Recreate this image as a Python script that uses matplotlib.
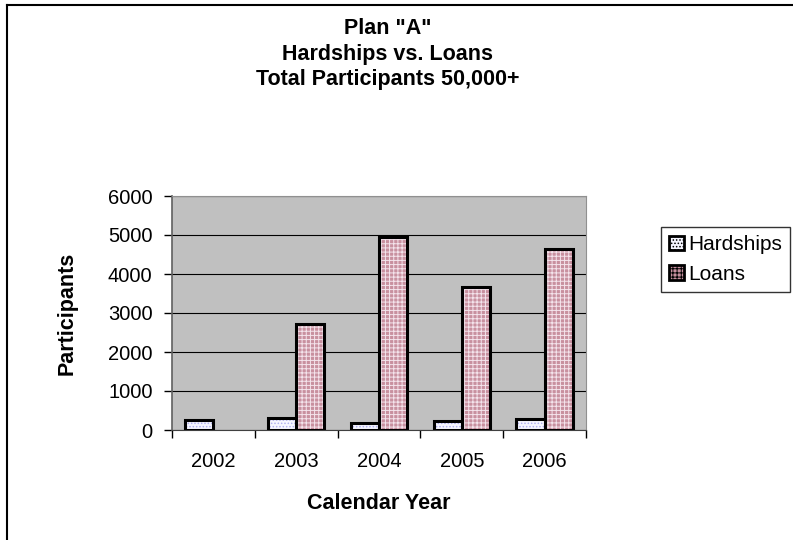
import numpy as np
import matplotlib
matplotlib.use('Agg')
import matplotlib.pyplot as plt
from matplotlib.lines import Line2D
from matplotlib.patches import Patch

plt.rcParams['font.family'] = ['Liberation Sans', 'DejaVu Sans']
plt.rcParams['hatch.linewidth'] = 0.7

# data
years = ['2002', '2003', '2004', '2005', '2006']
hardships = [250, 310, 170, 230, 280]
loans = [0, 2720, 4950, 3660, 4630]

fig = plt.figure(figsize=(7.93, 5.40), dpi=100)
ax = fig.add_axes([172/793, 1-430/540, (586-172)/793, (430-196)/540])
ax.set_facecolor('#c0c0c0')

x = np.arange(len(years))
w = 0.34

# fill with pattern, then a heavy black outline
ax.bar(x - w/2, hardships, w, color='#f6f6ff', edgecolor='#b0b0f0', hatch='.....', lw=0, zorder=3)
ax.bar(x - w/2, hardships, w, fill=False, edgecolor='black', lw=2.2, zorder=4)
ax.bar(x + w/2, loans, w, color='#c8909f', edgecolor='#f4e4ec', hatch='++++', lw=0, zorder=3)
lb = ax.bar(x + w/2, loans, w, fill=False, edgecolor='black', lw=2.2, zorder=4)
for b, v in zip(lb, loans):
    if v == 0:
        b.set_visible(False)

ax.set_xlim(-0.5, 4.5)
ax.set_ylim(0, 6000)
ax.set_yticks(range(0, 6001, 1000))
ax.yaxis.grid(True, color='black', lw=0.8)
ax.set_axisbelow(True)
ax.tick_params(axis='y', labelsize=14.5, length=6, width=1, pad=8)
ax.set_xticks(x)
ax.set_xticklabels(years)
ax.tick_params(axis='x', labelsize=14.5, length=0, pad=16)
ax.set_xticks(np.arange(-0.5, 5, 1), minor=True)
ax.tick_params(axis='x', which='minor', length=6, width=1)

for s in ['top', 'right']:
    ax.spines[s].set_color('#909090')
ax.spines['left'].set_color('#606060')
ax.spines['left'].set_linewidth(1.2)
ax.spines['bottom'].set_color('#404040')

ax.set_ylabel('Participants', fontsize=15.5, fontweight='bold', labelpad=22)
ax.set_xlabel('Calendar Year', fontsize=15.5, fontweight='bold', labelpad=16)

fig.text(388/793, 1-85/540, 'Plan "A"\nHardships vs. Loans\nTotal Participants 50,000+',
         ha='center', va='baseline', fontsize=15.5, fontweight='bold', linespacing=1.28,
         transform=fig.transFigure)

# legend drawn with proxy patches
handles = [Patch(facecolor='#f6f6ff', edgecolor='black', hatch='.....', lw=2),
           Patch(facecolor='#c8909f', edgecolor='black', hatch='++++', lw=2)]
fig.legend(handles, ['Hardships', 'Loans'], loc='upper left',
           bbox_to_anchor=(661/793, 1-227/540), fontsize=15, frameon=True,
           fancybox=False, edgecolor='black', handlelength=0.7, handleheight=0.7,
           handletextpad=0.2, borderpad=0.4, labelspacing=0.5, borderaxespad=0)

# chart area border (top and left visible)
fig.add_artist(Line2D([7/793, 1], [1-5/540, 1-5/540], color='black', lw=1.5, transform=fig.transFigure))
fig.add_artist(Line2D([7/793, 7/793], [0, 1-5/540], color='black', lw=1.5, transform=fig.transFigure))

fig.savefig('out.png', dpi=100)
